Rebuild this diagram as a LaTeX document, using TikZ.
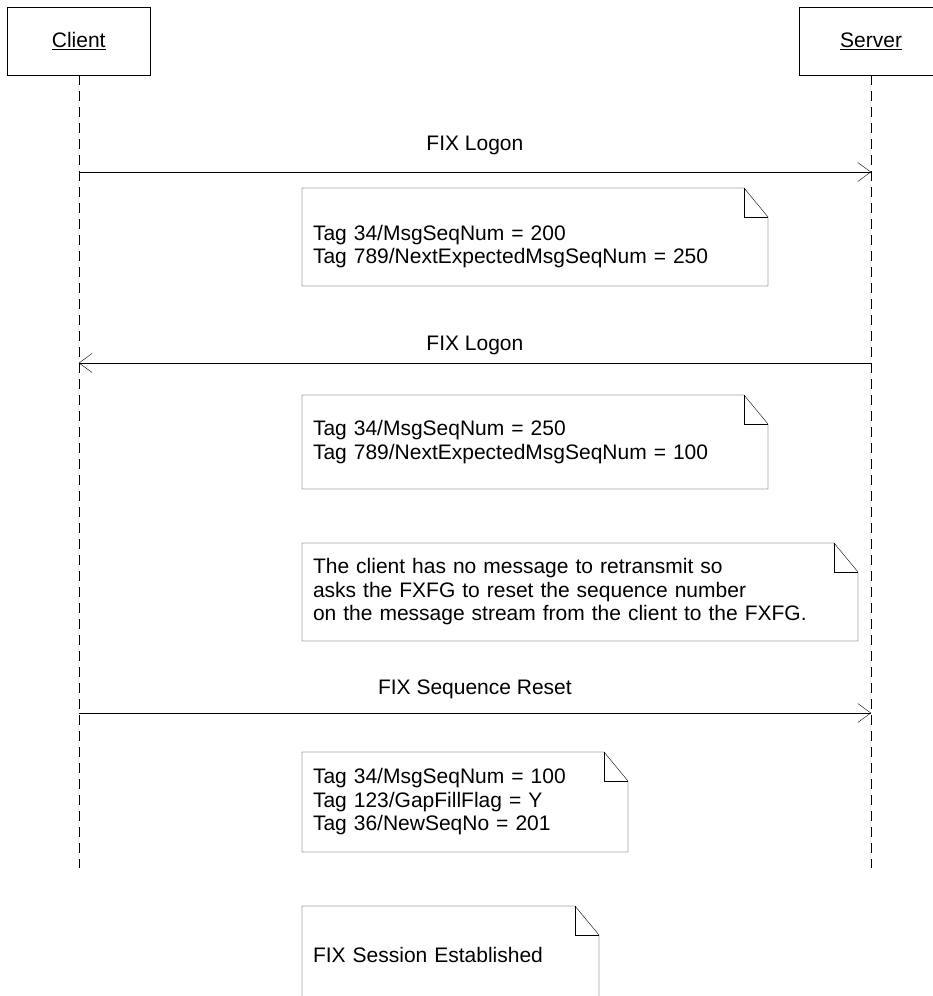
\documentclass[tikz,border=0pt]{standalone}
\usepackage{fontspec}
\setmainfont{Liberation Sans}
\usepackage{tikz}
\usetikzlibrary{arrows.meta}
\usetikzlibrary{positioning}
\tikzset{auto, >={Straight Barb[length=13pt,width=19pt]}, line width=0.9pt, font=\fontsize{21}{23.5}\selectfont}
\tikzstyle{lifebox} = [draw, fill=white, rectangle, minimum height=68pt, minimum width=143pt, text centered]
\tikzstyle{lifeline} = [draw, dash pattern=on 10pt off 6pt]
\tikzstyle{note} = [rectangle, anchor=north west, align=left, inner xsep=11pt, outer sep=0pt]
\tikzstyle{msg} = [coordinate]

% folded corner round a note node
\newcommand{\notebox}[1]{%
  \draw (#1.north west) -- ([xshift=-24pt]#1.north east) -- ([yshift=-29pt]#1.north east)
    -- (#1.south east) -- (#1.south west) -- cycle;
  \draw ([xshift=-24pt]#1.north east) |- ([yshift=-29pt]#1.north east);}

\begin{document}
\begin{tikzpicture}[x=1pt, y=-1pt]
    \clip (0,0) rectangle (933,996);
    \node [lifebox, anchor=north west] (client) at (7,7) {\underline{Client}};
    \node [lifebox, right=649pt of client] (server) {\underline{Server}};
    \coordinate [below=793pt of client] (client_end);
    \coordinate [below=793pt of server] (server_end);
    \draw [lifeline] (client) -- (client_end);
    \draw [lifeline] (server) -- (server_end);

    \coordinate (logon1_c) at (client |- 0,172);
    \coordinate (logon1_s) at (server |- 0,172);
    \coordinate (logon2_c) at (client |- 0,363);
    \coordinate (logon2_s) at (server |- 0,363);
    \coordinate (reset_c) at (client |- 0,713);
    \coordinate (reset_s) at (server |- 0,713);

    \node [note, minimum width=466pt, minimum height=98pt, text width=444pt] (tags_a) at (302,188)
        {\rule{0pt}{34pt}Tag 34/MsgSeqNum = 200\\Tag 789/NextExpectedMsgSeqNum = 250};
    \node [note, minimum width=466pt, minimum height=94pt, text width=444pt] (tags_b) at (302,395)
        {Tag 34/MsgSeqNum = 250\\Tag 789/NextExpectedMsgSeqNum = 100};
    \node [note, minimum width=556pt, minimum height=98pt, text width=534pt] (remark) at (302,543)
        {The client has no message to retransmit so\\asks the FXFG to reset the sequence number\\on the message stream from the client to the FXFG.};
    \node [note, minimum width=326pt, minimum height=100pt, text width=304pt] (tags_c) at (302,752)
        {Tag 34/MsgSeqNum = 100\\Tag 123/GapFillFlag = Y\\Tag 36/NewSeqNo = 201};
    \node [note, minimum width=297pt, minimum height=98pt, text width=275pt] (done) at (302,906)
        {FIX Session Established};
    \notebox{tags_a}
    \notebox{tags_b}
    \notebox{remark}
    \notebox{tags_c}
    \notebox{done}

    \draw [->] (logon1_c) -- node [above=13.8pt] {FIX Logon} (logon1_s);
    \draw [->] (logon2_s) -- node [above=4.8pt] {FIX Logon} (logon2_c);
    \draw [->] (reset_c) -- node [above=10.8pt] {FIX Sequence Reset} (reset_s);
\end{tikzpicture}
\end{document}
